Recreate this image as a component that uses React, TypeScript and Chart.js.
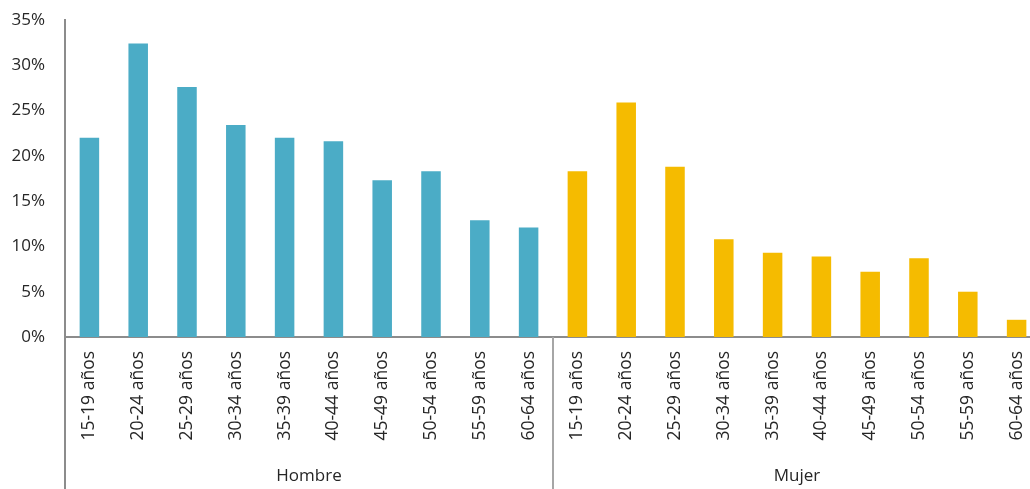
import React, { useEffect, useRef } from "react";
import { Chart, registerables } from "chart.js";

Chart.register(...registerables);

const ageGroups = [
  "15-19 años", "20-24 años", "25-29 años", "30-34 años", "35-39 años",
  "40-44 años", "45-49 años", "50-54 años", "55-59 años", "60-64 años",
];
const groupNames = ["Hombre", "Mujer"];
const hombreValues = [22.0, 32.4, 27.6, 23.4, 22.0, 21.6, 17.3, 18.3, 12.9, 12.1];
const mujerValues = [18.3, 25.9, 18.8, 10.8, 9.3, 8.9, 7.2, 8.7, 5.0, 1.9];
const yTicks = [0, 5, 10, 15, 20, 25, 30, 35];

const hombreColor = "#4BACC6";
const mujerColor = "#F5BB00";
const FONT = "'Open Sans', 'Noto Sans', sans-serif";

export default function App() {
  const ref = useRef<HTMLCanvasElement | null>(null);

  useEffect(() => {
    if (!ref.current) return;
    const labels = [...ageGroups, ...ageGroups];
    const data = [...hombreValues, ...mujerValues];
    const colors = [
      ...hombreValues.map(() => hombreColor),
      ...mujerValues.map(() => mujerColor),
    ];

    const groupPlugin = {
      id: "groupPlugin",
      afterDraw(chart: any) {
        const ctx = chart.ctx;
        const x = chart.scales.x;
        const area = chart.chartArea;
        const n = ageGroups.length;
        const step = x.getPixelForValue(1) - x.getPixelForValue(0);
        const bottom = chart.height;
        ctx.save();
        ctx.strokeStyle = "#8c8c8c";
        ctx.lineWidth = 2;
        ctx.beginPath();
        ctx.moveTo(area.left, area.bottom);
        ctx.lineTo(area.left, bottom);
        ctx.stroke();
        ctx.strokeStyle = "#a6a6a6";
        for (let g = 1; g < groupNames.length; g++) {
          const sx = Math.round(x.getPixelForValue(g * n) - step / 2);
          ctx.beginPath();
          ctx.moveTo(sx, area.bottom);
          ctx.lineTo(sx, bottom);
          ctx.stroke();
        }
        ctx.fillStyle = "#262626";
        ctx.font = `17px ${FONT}`;
        ctx.textAlign = "center";
        ctx.textBaseline = "middle";
        groupNames.forEach((name, g) => {
          const cx = (x.getPixelForValue(g * n) + x.getPixelForValue(g * n + n - 1)) / 2;
          ctx.fillText(name, cx, 476);
        });
        ctx.restore();
      },
    };

    const chart = new Chart(ref.current, {
      type: "bar",
      data: {
        labels,
        datasets: [
          {
            data,
            backgroundColor: colors,
            borderWidth: 0,
            categoryPercentage: 1,
            barPercentage: 0.4,
          },
        ],
      },
      options: {
        responsive: false,
        animation: false,
        devicePixelRatio: 1,
        layout: { padding: { top: 20, right: 19, left: 0, bottom: 0 } },
        plugins: {
          legend: { display: false },
          tooltip: { enabled: false },
        },
        scales: {
          x: {
            grid: { display: false, drawTicks: false },
            border: { display: true, color: "#8c8c8c", width: 2 },
            ticks: {
              autoSkip: false,
              minRotation: 90,
              maxRotation: 90,
              padding: 14,
              color: "#262626",
              font: { family: FONT, size: 17.5 },
            },
            afterFit(scale: any) {
              scale.height = 152;
            },
          },
          y: {
            min: 0,
            max: 35,
            afterBuildTicks(scale: any) {
              scale.ticks = yTicks.map((v) => ({ value: v }));
            },
            grid: { display: false, drawTicks: false },
            border: { display: true, color: "#8c8c8c", width: 2 },
            ticks: {
              padding: 20,
              color: "#262626",
              font: { family: FONT, size: 17 },
              callback: (v: any) => `${v}%`,
            },
            afterFit(scale: any) {
              scale.width = 65;
              scale.paddingTop = 0;
              scale.paddingBottom = 0;
            },
          },
        },
      },
      plugins: [groupPlugin],
    });
    return () => chart.destroy();
  }, []);

  return (
    <div
      style={{
        position: "fixed",
        left: 0,
        top: 0,
        width: 1030,
        height: 489,
        overflow: "hidden",
        background: "#fff",
      }}
    >
      <canvas ref={ref} width={1060} height={489} style={{ display: "block" }} />
    </div>
  );
}
